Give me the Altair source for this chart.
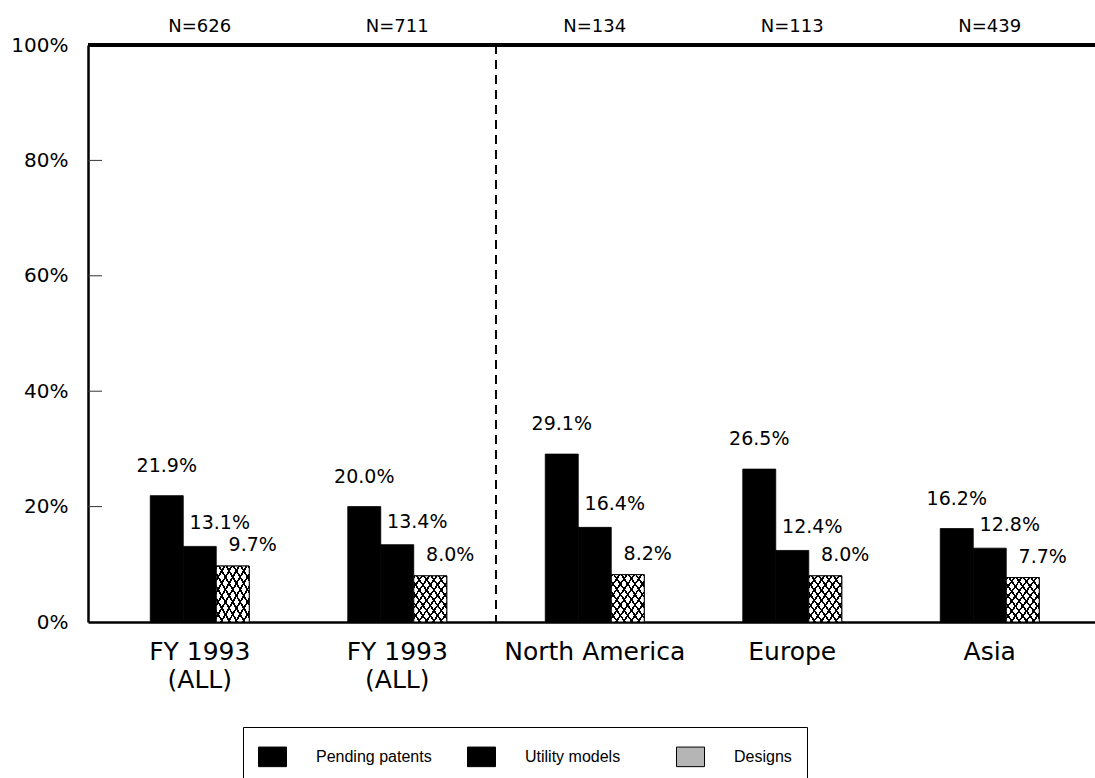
import altair as alt
import pandas as pd

# Group labels ("|" marks a line break), sample sizes and the three series (%)
group_labels = ["FY 1993|(ALL)", "FY 1993|(ALL)", "North America", "Europe", "Asia"]
sample_sizes = [626, 711, 134, 113, 439]
series_names = ["Pending patents", "Utility models", "Designs"]
pending_patents = [21.9, 20.0, 29.1, 26.5, 16.2]
utility_models = [13.1, 13.4, 16.4, 12.4, 12.8]
designs = [9.7, 8.0, 8.2, 8.0, 7.7]
y_ticks = [0, 20, 40, 60, 80, 100]

FONT = "DejaVu Sans"
LEGEND_FONT = "Liberation Sans"

rows = []
for values, name in zip([pending_patents, utility_models, designs], series_names):
    for i, v in enumerate(values):
        rows.append({"group": i, "series": name, "value": v, "label": f"{v:.1f}%"})
bars_df = pd.DataFrame(rows)
n_df = pd.DataFrame({"group": list(range(len(sample_sizes))),
                     "n": [f"N={n}" for n in sample_sizes]})
ticks_df = pd.DataFrame({"tick": [t for t in y_ticks if 0 < t < 100]})

label_array = "[" + ",".join(f"'{s}'" for s in group_labels) + "]"

x_enc = alt.X(
    "group:N",
    scale=alt.Scale(domain=list(range(len(group_labels))), paddingInner=0,
                    paddingOuter=0.0494, align=0.667),
    axis=alt.Axis(title=None, labelExpr=f"split({label_array}[datum.value], '|')",
                  labelAngle=0, labelAlign="center", labelBaseline="top",
                  labelLimit=400, ticks=False, domainColor="black", domainWidth=2.5,
                  labelFontSize=25, labelLineHeight=28, labelPadding=17,
                  labelColor="black", labelFont=FONT),
)
# the three bars of a group sit in the middle half of the group's band
xoff_enc = alt.XOffset("series:N", sort=series_names,
                       scale=alt.Scale(paddingInner=0, paddingOuter=0,
                                       range=[49.25, 148.25]))
y_enc = alt.Y(
    "value:Q",
    scale=alt.Scale(domain=[0, 100], nice=False),
    axis=alt.Axis(title=None, values=y_ticks, labelExpr="datum.value + '%'",
                  ticks=False, grid=False, domainColor="black", domainWidth=2.5,
                  labelFontSize=20, labelPadding=20, labelColor="black",
                  labelFont=FONT),
)

base = alt.Chart(bars_df)

bars = base.mark_bar(stroke="black", strokeWidth=0.8).encode(
    x=x_enc,
    xOffset=xoff_enc,
    y=y_enc,
    color=alt.Color(
        "series:N", sort=series_names,
        scale=alt.Scale(domain=series_names, range=["black", "black", "#b5b5b5"]),
        legend=alt.Legend(
            title=None, orient="none", legendX=155, legendY=682,
            direction="horizontal", columns=3, gridAlign="all", columnPadding=33,
            symbolType="M-1,-0.7H1V0.7H-1Z", symbolSize=784,
            symbolStrokeColor="black", symbolStrokeWidth=1,
            labelFont=LEGEND_FONT, labelFontSize=16, labelColor="black",
            labelOffset=29, padding=15, strokeColor="black", fillColor="white",
        ),
    ),
)


def hatch(x1, y1, x2, y2, periods=9, line=0.03):
    stops = []
    for k in range(periods):
        a = k / periods
        b = a + line
        stops += [alt.GradientStop(offset=a, color="black"),
                  alt.GradientStop(offset=b, color="black"),
                  alt.GradientStop(offset=b, color="rgba(0,0,0,0)"),
                  alt.GradientStop(offset=(k + 1) / periods, color="rgba(0,0,0,0)")]
    return alt.LinearGradient(gradient="linear", stops=stops, x1=x1, y1=y1, x2=x2, y2=y2)


design_base = base.transform_filter(alt.datum.series == "Designs")
design_white = design_base.mark_bar(fill="white", stroke="black", strokeWidth=1).encode(
    x="group:N", xOffset=xoff_enc, y="value:Q")
design_hatch1 = design_base.mark_bar(fill=hatch(0, 0, 1, 1)).encode(
    x="group:N", xOffset=xoff_enc, y="value:Q")
design_hatch2 = design_base.mark_bar(fill=hatch(1, 0, 0, 1)).encode(
    x="group:N", xOffset=xoff_enc, y="value:Q")


def value_labels(name, dx, dy):
    return base.transform_filter(alt.datum.series == name).mark_text(
        font=FONT, fontSize=19, color="black", dx=dx, dy=dy, baseline="middle"
    ).encode(x="group:N", xOffset=xoff_enc, y="value:Q", text="label:N")


labels_p = value_labels("Pending patents", 0, -30)
labels_u = value_labels("Utility models", 20, -23)
labels_d = value_labels("Designs", 20, -21)

n_labels = alt.Chart(n_df).mark_text(
    font=FONT, fontSize=18, color="black", dy=-18, baseline="middle"
).encode(x="group:N", y=alt.datum(100), text="n:N")

top_border = alt.Chart(n_df).mark_rule(color="black", strokeWidth=3.5).encode(
    y=alt.datum(100))

divider = alt.Chart(n_df).mark_rule(color="black", strokeWidth=1,
                                    strokeDash=[9, 6]).encode(
    x=alt.XDatum(2, type="nominal", bandPosition=0))

inner_ticks = alt.Chart(ticks_df).mark_rule(color="#333333", strokeWidth=1).encode(
    y="tick:Q", x=alt.value(0), x2=alt.value(14))

chart = alt.layer(
    divider, inner_ticks, bars, design_white, design_hatch1, design_hatch2,
    labels_p, labels_u, labels_d, n_labels, top_border,
).properties(
    width=1007, height=577,
    autosize=alt.AutoSizeParams(type="none"),
    padding={"left": 88, "top": 45, "right": 0, "bottom": 156},
    background="white",
).configure_view(stroke=None)

chart.save("out.html", embed_options={"renderer": "svg", "actions": False})
